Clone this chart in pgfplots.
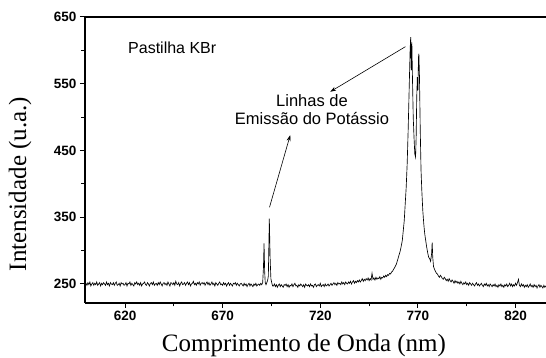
\documentclass[border=0pt]{standalone}
\usepackage{fontspec}
\setmainfont{Liberation Serif}
\newfontfamily\arial{Liberation Sans}
\usepackage{pgfplots}
\pgfplotsset{compat=1.18}
\usetikzlibrary{arrows.meta}
\begin{document}
\begin{tikzpicture}
\begin{axis}[
  at={(0pt,0pt)}, anchor=south west,
  width=461pt, height=286pt, scale only axis,
  xmin=599.5, xmax=835.6, ymin=221.5, ymax=650,
  axis x line*=bottom, axis y line*=left,
  axis line style={line width=1.3pt, -},
  xtick={620,670,720,770,820}, ytick={250,350,450,550,650},
  minor x tick num=1, minor y tick num=1,
  tick align=outside, major tick length=5pt, minor tick length=3.5pt,
  tick style={line width=1pt, black},
  ticklabel style={font=\arial\bfseries\fontsize{13.5}{14}\selectfont},
  /pgf/number format/assume math mode=true,
  /pgf/number format/1000 sep={},
  xlabel={Comprimento de Onda (nm)},
  ylabel={Intensidade (u.a.)},
  label style={font=\fontsize{25}{26}\selectfont},
  xlabel style={at={(axis description cs:0.475,0)}, anchor=base, yshift=-49pt},
  ylabel style={at={(axis description cs:-0.141,0.416)}, anchor=center},
  clip=true,
]
\addplot[black, line width=0.65pt] coordinates {
(600,251)(600.5,248)(601,252)(601.5,249)(602,253)(602.5,247)(603,250)(603.5,252)(604,248)(604.5,251)
(605,249)(605.5,253)(606,248)(606.5,250)(607,252)(607.5,247)(608,251)(608.5,249)(609,252)(609.5,250)
(610,248)(610.5,253)(611,249)(611.5,251)(612,247)(612.5,252)(613,250)(613.5,249)(614,252)(614.5,248)
(615,251)(615.5,253)(616,248)(616.5,249)(617,251)(617.5,247)(618,252)(618.5,250)(619,251)(619.5,248)
(620,249)(620.5,252)(621,247)(621.5,251)(622,250)(622.5,253)(623,248)(623.5,251)(624,249)(624.5,247)
(625,252)(625.5,250)(626,253)(626.5,249)(627,251)(627.5,248)(628,252)(628.5,247)(629,250)(629.5,251)
(630,253)(630.5,249)(631,248)(631.5,252)(632,250)(632.5,247)(633,251)(633.5,252)(634,249)(634.5,253)
(635,248)(635.5,250)(636,251)(636.5,248)(637,252)(637.5,249)(638,253)(638.5,250)(639,247)(639.5,251)
(640,252)(640.5,249)(641,251)(641.5,248)(642,253)(642.5,250)(643,247)(643.5,252)(644,251)(644.5,249)
(645,252)(645.5,248)(646,254)(646.5,250)(647,249)(647.5,252)(648,247)(648.5,251)(649,253)(649.5,249)
(650,250)(650.5,252)(651,248)(651.5,251)(652,253)(652.5,249)(653,252)(653.5,247)(654,250)(654.5,251)
(655,254)(655.5,249)(656,251)(656.5,248)(657,252)(657.5,250)(658,253)(658.5,248)(659,251)(659.5,252)
(660,250)(660.5,252)(661,248)(661.5,251)(662,253)(662.5,249)(663,252)(663.5,248)(664,250)(664.5,253)
(665,249)(665.5,251)(666,247)(666.5,252)(667,250)(667.5,248)(668,251)(668.5,253)(669,249)(669.5,250)
(670,248)(670.5,252)(671,249)(671.5,251)(672,247)(672.5,250)(673,252)(673.5,248)(674,251)(674.5,249)
(675,247)(675.5,251)(676,250)(676.5,252)(677,248)(677.5,251)(678,249)(678.5,247)(679,250)(679.5,251)
(680,249)(680.5,247)(681,251)(681.5,248)(682,250)(682.5,246)(683,249)(683.5,251)(684,247)(684.5,250)
(685,248)(685.5,246)(686,250)(686.5,248)(687,251)(687.5,247)(688,249)(688.5,250)(689,248)(689.5,251)
(690,249)(690.5,252)(690.9,275)(691.2,311)(691.5,270)(691.8,252)(692.2,249)(692.6,252)(693,255)
(693.4,262)(693.9,348)(694.3,290)(694.7,258)(695.2,251)(695.6,247)
(696,247)(696.5,250)(697,246)(697.5,249)(698,245)(698.5,248)(699,250)(699.5,246)(700,249)(700.5,247)
(701,245)(701.5,249)(702,248)(702.5,250)(703,246)(703.5,249)(704,245)(704.5,248)(705,247)(705.5,250)
(706,246)(706.5,249)(707,251)(707.5,247)(708,248)(708.5,245)(709,249)(709.5,247)(710,250)(710.5,248)
(711,246)(711.5,249)(712,245)(712.5,250)(713,248)(713.5,247)(714,249)(714.5,246)(715,250)(715.5,247)
(716,248)(716.5,245)(717,249)(717.5,250)(718,246)(718.5,248)(719,249)(719.5,247)(720,251)(720.5,246)
(721,248)(721.5,249)(722,246)(722.5,250)(723,247)(723.5,248)(724,250)(724.5,247)
(725,249)(725.5,251)(726,248)(726.5,250)(727,252)(727.5,249)(728,251)(728.5,248)(729,252)(729.5,250)
(730,251)(730.5,249)(731,253)(731.5,250)(732,252)(732.5,249)(733,253)(733.5,251)(734,250)(734.5,253)
(735,251)(735.5,254)(736,250)(736.5,253)(737,255)(737.5,251)(738,254)(738.5,252)(739,255)(739.5,253)
(740,256)(740.5,253)(741,255)(741.5,258)(742,254)(742.5,257)(743,255)(743.5,258)(744,256)(744.5,259)
(745,255)(745.5,258)(746,256)(746.5,266)(747,257)(747.5,259)(748,256)(748.5,260)(749,257)(749.5,259)
(750,258)(750.5,261)(751,257)(751.5,260)(752,259)(752.5,262)(753,260)(753.5,263)(754,261)(754.5,264)
(755,263)(755.5,266)(756,265)(756.5,268)(757,269)(757.5,272)(758,274)(758.5,277)(759,280)(759.5,285)
(760,290)(761,300)(762,315)(762.5,330)(763,345)
(763.5,370)(764,395)(764.5,430)(765,480)(765.5,540)(766,600)(766.3,620)(766.6,570)(766.9,612)
(767.2,560)(767.6,500)(768,470)(768.4,445)(768.8,440)(769.1,470)(769.4,530)(769.7,560)(770,540)
(770.3,590)(770.5,595)(770.8,560)(771.2,480)(771.6,420)(772,390)(772.5,360)(773,340)(773.5,325)
(774,315)(774.5,305)(775,297)(775.5,290)(776,288)(776.5,284)(777,295)(777.3,312)(777.6,290)
(778,276)(778.5,272)(779,269)(779.5,266)(780,265)(780.5,262)(781,260)(781.5,263)(782,261)(782.5,258)
(783,257)(783.5,260)(784,258)(784.5,255)(785,257)(785.5,254)(786,258)(786.5,255)(787,253)(787.5,256)
(788,254)(788.5,251)(789,255)(789.5,252)(790,254)(790.5,251)(791,253)(791.5,250)(792,254)(792.5,251)
(793,249)(793.5,252)(794,250)(794.5,253)(795,249)(795.5,251)(796,248)(796.5,252)(797,250)(797.5,248)
(798,251)(798.5,249)(799,247)(799.5,250)(800,252)(800.5,248)(801,250)(801.5,247)(802,249)(802.5,251)
(803,248)(803.5,246)(804,250)(804.5,248)(805,251)(805.5,247)(806,249)(806.5,246)(807,250)(807.5,248)
(808,246)(808.5,249)(809,247)(809.5,250)(810,246)(810.5,248)(811,245)(811.5,249)(812,247)(812.5,250)
(813,246)(813.5,248)(814,245)(814.5,249)(815,247)(815.5,250)(816,246)(816.5,248)(817,251)(817.5,247)
(818,250)(818.5,246)(819,249)(819.5,247)(820,251)(820.5,248)(821,252)(821.5,257)(822,248)(822.5,246)
(823,250)(823.5,247)(824,249)(824.5,245)(825,248)(825.5,246)(826,249)(826.5,245)(827,247)(827.5,250)
(828,246)(828.5,248)(829,245)(829.5,249)(830,246)(830.5,248)(831,244)(831.5,247)(832,249)(832.5,245)
(833,248)(833.5,246)(834,244)(834.5,248)(835,245)(835.5,247)(836,246)
};
\draw[line width=1.3pt] (rel axis cs:0,1) -- (rel axis cs:1,1);
\draw[line width=0.6pt, -{Stealth[length=6pt,width=4pt]}] (axis cs:763.6,605.5) -- (axis cs:725.1,538);
\draw[line width=0.6pt, -{Stealth[length=6pt,width=4pt]}] (axis cs:694,365) -- (axis cs:704.6,473);
\node[anchor=base west, inner sep=0pt, font=\arial\fontsize{16}{16}\selectfont] at (rel axis cs:0.0933,0.8706) {Pastilha KBr};
\node[anchor=base, inner sep=0pt, font=\arial\fontsize{16.5}{16}\selectfont] at (rel axis cs:0.4924,0.6853) {Linhas de};
\node[anchor=base, inner sep=0pt, font=\arial\fontsize{16.5}{16}\selectfont] at (rel axis cs:0.4924,0.6224) {Emissão do Potássio};
\end{axis}
\pgfresetboundingbox
\path (-85pt,-55pt) rectangle (461pt,303pt);
\end{tikzpicture}
\end{document}
